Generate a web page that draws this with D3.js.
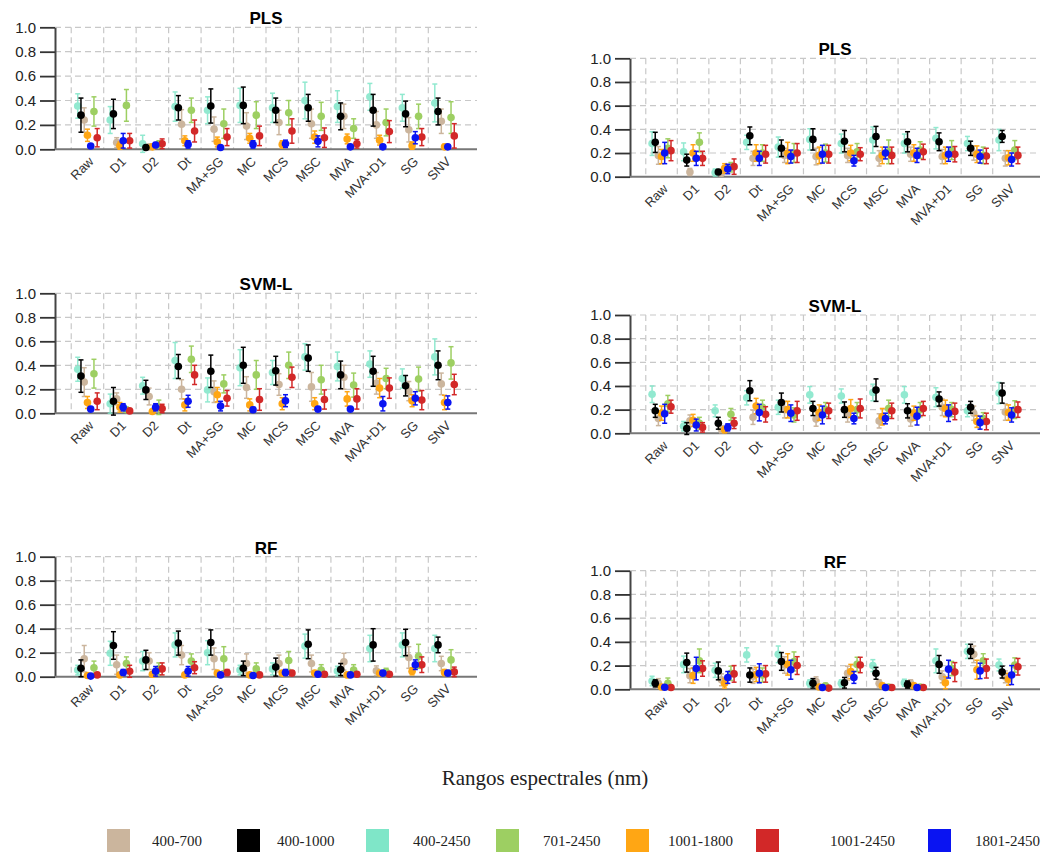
<!DOCTYPE html>
<html>
<head>
<meta charset="utf-8">
<script src="https://cdn.jsdelivr.net/npm/d3@7"></script>
<style>
body { margin: 0; background: #fff; }
</style>
</head>
<body>
<svg id="chart" width="1056" height="854"></svg>
<script>
const categories = ["Raw", "D1", "D2", "Dt", "MA+SG", "MC", "MCS", "MSC", "MVA", "MVA+D1", "SG", "SNV"];
const seriesNames = ["400-700", "400-1000", "400-2450", "701-2450", "1001-1800", "1001-2450", "1801-2450"];
const seriesColors = ["#cbb59d", "#000000", "#7fe6c8", "#9dcf62", "#ffa614", "#d22828", "#0a14f2"];
// left-to-right order inside each group
const dodgeOrder = ["400-2450", "400-1000", "400-700", "1001-1800", "1801-2450", "701-2450", "1001-2450"];
// which series sits on top
const drawOrder = ["400-2450", "400-700", "701-2450", "1001-1800", "1001-2450", "1801-2450", "400-1000"];
const yTicks = [0, 0.2, 0.4, 0.6, 0.8, 1.0];

// rows follow seriesNames, columns follow categories
const leftPlsMean = [
    [0.24, 0.055, 0.02, 0.205, 0.165, 0.19, 0.22, 0.21, 0.27, 0.2, 0.16, 0.23],
    [0.28, 0.29, 0.015, 0.34, 0.355, 0.36, 0.32, 0.34, 0.27, 0.32, 0.29, 0.31],
    [0.355, 0.24, 0.045, 0.35, 0.32, 0.36, 0.34, 0.40, 0.35, 0.43, 0.34, 0.38],
    [0.31, 0.36, 0.04, 0.32, 0.21, 0.28, 0.30, 0.27, 0.17, 0.22, 0.27, 0.26],
    [0.115, 0.03, 0.02, 0.07, 0.06, 0.09, 0.04, 0.1, 0.085, 0.075, 0.03, 0.02],
    [0.095, 0.07, 0.045, 0.15, 0.1, 0.11, 0.15, 0.095, 0.045, 0.145, 0.1, 0.11],
    [0.027, 0.07, 0.035, 0.04, 0.015, 0.04, 0.045, 0.065, 0.02, 0.02, 0.095, 0.02]
];
const leftPlsErr = [
    [0.1, 0.04, 0.02, 0.12, 0.1, 0.11, 0.1, 0.12, 0.1, 0.11, 0.1, 0.1],
    [0.14, 0.12, 0.01, 0.1, 0.14, 0.15, 0.1, 0.11, 0.11, 0.13, 0.105, 0.11],
    [0.1, 0.11, 0.07, 0.12, 0.11, 0.14, 0.12, 0.15, 0.13, 0.11, 0.11, 0.155],
    [0.12, 0.13, 0.03, 0.1, 0.12, 0.11, 0.1, 0.115, 0.08, 0.11, 0.1, 0.13],
    [0.05, 0.03, 0.02, 0.04, 0.04, 0.04, 0.03, 0.05, 0.04, 0.04, 0.03, 0.02],
    [0.075, 0.06, 0.04, 0.09, 0.07, 0.08, 0.1, 0.08, 0.035, 0.09, 0.07, 0.1],
    [0.015, 0.06, 0.02, 0.03, 0.01, 0.03, 0.03, 0.045, 0.015, 0.015, 0.05, 0.015]
];
const leftSvmMean = [
    [0.26, 0.12, 0.14, 0.2, 0.18, 0.215, 0.24, 0.22, 0.30, 0.25, 0.185, 0.245],
    [0.31, 0.1, 0.195, 0.39, 0.35, 0.40, 0.355, 0.46, 0.32, 0.35, 0.23, 0.40],
    [0.367, 0.08, 0.23, 0.44, 0.195, 0.38, 0.34, 0.47, 0.39, 0.41, 0.29, 0.47],
    [0.33, 0.03, 0.05, 0.45, 0.245, 0.32, 0.40, 0.28, 0.235, 0.29, 0.285, 0.42],
    [0.09, 0.05, 0.015, 0.07, 0.155, 0.07, 0.08, 0.08, 0.12, 0.21, 0.105, 0.09],
    [0.1, 0.02, 0.04, 0.32, 0.125, 0.115, 0.30, 0.115, 0.12, 0.21, 0.11, 0.24],
    [0.035, 0.05, 0.05, 0.1, 0.06, 0.03, 0.105, 0.035, 0.035, 0.08, 0.125, 0.09]
];
const leftSvmErr = [
    [0.12, 0.05, 0.07, 0.08, 0.09, 0.09, 0.09, 0.12, 0.1, 0.09, 0.08, 0.09],
    [0.135, 0.115, 0.08, 0.1, 0.135, 0.15, 0.12, 0.11, 0.115, 0.125, 0.085, 0.12],
    [0.1, 0.08, 0.07, 0.15, 0.1, 0.15, 0.1, 0.11, 0.12, 0.11, 0.08, 0.15],
    [0.12, 0.02, 0.06, 0.11, 0.075, 0.12, 0.11, 0.12, 0.1, 0.085, 0.1, 0.135],
    [0.05, 0.04, 0.015, 0.05, 0.06, 0.05, 0.05, 0.05, 0.06, 0.08, 0.05, 0.06],
    [0.07, 0.015, 0.035, 0.08, 0.065, 0.09, 0.085, 0.08, 0.085, 0.085, 0.08, 0.085],
    [0.02, 0.03, 0.03, 0.05, 0.04, 0.02, 0.05, 0.02, 0.02, 0.06, 0.055, 0.055]
];
const leftRfMean = [
    [0.15, 0.10, 0.13, 0.18, 0.15, 0.11, 0.11, 0.11, 0.125, 0.05, 0.16, 0.11],
    [0.07, 0.26, 0.14, 0.28, 0.285, 0.07, 0.08, 0.27, 0.06, 0.265, 0.285, 0.265],
    [0.055, 0.195, 0.13, 0.265, 0.2, 0.055, 0.065, 0.255, 0.047, 0.235, 0.265, 0.235],
    [0.075, 0.11, 0.065, 0.13, 0.15, 0.065, 0.135, 0.055, 0.055, 0.04, 0.17, 0.14],
    [0.01, 0.015, 0.02, 0.015, 0.03, 0.015, 0.03, 0.03, 0.015, 0.03, 0.045, 0.035],
    [0.015, 0.045, 0.065, 0.075, 0.035, 0.015, 0.03, 0.02, 0.02, 0.02, 0.1, 0.04],
    [0.005, 0.035, 0.045, 0.045, 0.015, 0.01, 0.035, 0.02, 0.015, 0.03, 0.1, 0.03]
];
const leftRfErr = [
    [0.11, 0.08, 0.07, 0.08, 0.09, 0.08, 0.07, 0.07, 0.07, 0.04, 0.09, 0.06],
    [0.07, 0.115, 0.08, 0.1, 0.105, 0.06, 0.075, 0.12, 0.05, 0.135, 0.11, 0.065],
    [0.04, 0.1, 0.08, 0.1, 0.1, 0.04, 0.05, 0.1, 0.04, 0.11, 0.1, 0.11],
    [0.055, 0.055, 0.05, 0.06, 0.1, 0.05, 0.075, 0.045, 0.045, 0.03, 0.1, 0.085],
    [0.01, 0.015, 0.015, 0.015, 0.02, 0.01, 0.02, 0.02, 0.01, 0.02, 0.03, 0.025],
    [0.01, 0.05, 0.05, 0.05, 0.025, 0.01, 0.02, 0.015, 0.015, 0.015, 0.065, 0.04],
    [0.005, 0.025, 0.04, 0.04, 0.01, 0.01, 0.025, 0.015, 0.01, 0.02, 0.04, 0.02]
];
const rightPlsMean = [
    [0.18, 0.04, 0.03, 0.155, 0.18, 0.17, 0.18, 0.155, 0.19, 0.17, 0.2, 0.155],
    [0.29, 0.14, 0.04, 0.345, 0.24, 0.315, 0.30, 0.34, 0.295, 0.295, 0.24, 0.34],
    [0.28, 0.21, 0.035, 0.29, 0.25, 0.315, 0.28, 0.31, 0.28, 0.325, 0.28, 0.31],
    [0.24, 0.29, 0.08, 0.2, 0.2, 0.2, 0.21, 0.21, 0.225, 0.225, 0.18, 0.225],
    [0.17, 0.2, 0.07, 0.2, 0.2, 0.18, 0.2, 0.18, 0.2, 0.18, 0.19, 0.16],
    [0.22, 0.155, 0.085, 0.19, 0.2, 0.19, 0.19, 0.18, 0.21, 0.19, 0.175, 0.18],
    [0.2, 0.155, 0.065, 0.155, 0.17, 0.19, 0.135, 0.2, 0.18, 0.19, 0.17, 0.145]
];
const rightPlsErr = [
    [0.075, 0.03, 0.02, 0.06, 0.06, 0.07, 0.06, 0.065, 0.06, 0.06, 0.06, 0.065],
    [0.085, 0.05, 0.02, 0.075, 0.07, 0.09, 0.09, 0.085, 0.085, 0.075, 0.06, 0.05],
    [0.1, 0.075, 0.03, 0.06, 0.085, 0.09, 0.08, 0.11, 0.08, 0.09, 0.06, 0.09],
    [0.08, 0.08, 0.04, 0.07, 0.08, 0.075, 0.07, 0.1, 0.07, 0.08, 0.07, 0.08],
    [0.06, 0.07, 0.04, 0.07, 0.09, 0.07, 0.065, 0.07, 0.07, 0.07, 0.07, 0.06],
    [0.085, 0.06, 0.065, 0.075, 0.08, 0.075, 0.055, 0.07, 0.065, 0.065, 0.065, 0.07],
    [0.09, 0.06, 0.04, 0.06, 0.055, 0.075, 0.045, 0.05, 0.06, 0.06, 0.055, 0.055]
];
const rightSvmMean = [
    [0.125, 0.105, 0.035, 0.135, 0.2, 0.12, 0.155, 0.105, 0.12, 0.22, 0.17, 0.18],
    [0.19, 0.04, 0.085, 0.36, 0.26, 0.21, 0.2, 0.365, 0.19, 0.29, 0.22, 0.34],
    [0.33, 0.06, 0.19, 0.3, 0.22, 0.325, 0.315, 0.345, 0.325, 0.305, 0.19, 0.34],
    [0.25, 0.085, 0.16, 0.22, 0.155, 0.2, 0.2, 0.21, 0.2, 0.2, 0.125, 0.2],
    [0.17, 0.11, 0.03, 0.23, 0.2, 0.175, 0.21, 0.14, 0.17, 0.21, 0.1, 0.175],
    [0.225, 0.05, 0.085, 0.16, 0.19, 0.19, 0.21, 0.19, 0.21, 0.185, 0.1, 0.2],
    [0.165, 0.07, 0.05, 0.175, 0.17, 0.155, 0.125, 0.125, 0.145, 0.17, 0.09, 0.155]
];
const rightSvmErr = [
    [0.06, 0.05, 0.03, 0.06, 0.07, 0.06, 0.06, 0.06, 0.06, 0.07, 0.06, 0.07],
    [0.055, 0.05, 0.05, 0.085, 0.08, 0.06, 0.065, 0.095, 0.06, 0.06, 0.05, 0.085],
    [0.07, 0.04, 0.05, 0.06, 0.06, 0.07, 0.06, 0.07, 0.07, 0.08, 0.05, 0.09],
    [0.07, 0.05, 0.05, 0.06, 0.06, 0.06, 0.06, 0.07, 0.06, 0.06, 0.05, 0.075],
    [0.06, 0.05, 0.025, 0.065, 0.07, 0.065, 0.075, 0.07, 0.06, 0.07, 0.05, 0.065],
    [0.055, 0.04, 0.045, 0.065, 0.08, 0.065, 0.08, 0.065, 0.06, 0.07, 0.07, 0.065],
    [0.08, 0.05, 0.03, 0.07, 0.07, 0.075, 0.045, 0.045, 0.075, 0.07, 0.055, 0.06]
];
const rightRfMean = [
    [0.05, 0.115, 0.08, 0.11, 0.205, 0.065, 0.135, 0.05, 0.05, 0.105, 0.295, 0.105],
    [0.05, 0.225, 0.155, 0.12, 0.235, 0.05, 0.055, 0.135, 0.04, 0.21, 0.32, 0.145],
    [0.07, 0.21, 0.16, 0.29, 0.295, 0.05, 0.05, 0.2, 0.055, 0.24, 0.32, 0.205],
    [0.05, 0.24, 0.135, 0.12, 0.235, 0.03, 0.21, 0.02, 0.02, 0.175, 0.24, 0.205],
    [0.02, 0.115, 0.05, 0.125, 0.21, 0.02, 0.15, 0.03, 0.03, 0.055, 0.165, 0.085],
    [0.015, 0.175, 0.13, 0.13, 0.2, 0.01, 0.205, 0.015, 0.015, 0.145, 0.175, 0.19],
    [0.017, 0.175, 0.1, 0.135, 0.165, 0.015, 0.1, 0.015, 0.015, 0.17, 0.155, 0.12]
];
const rightRfErr = [
    [0.04, 0.06, 0.05, 0.06, 0.07, 0.04, 0.06, 0.03, 0.03, 0.05, 0.07, 0.05],
    [0.03, 0.08, 0.075, 0.06, 0.075, 0.04, 0.045, 0.05, 0.03, 0.075, 0.06, 0.05],
    [0.04, 0.07, 0.06, 0.06, 0.07, 0.03, 0.03, 0.05, 0.03, 0.1, 0.06, 0.05],
    [0.045, 0.1, 0.06, 0.06, 0.08, 0.02, 0.06, 0.015, 0.015, 0.06, 0.06, 0.06],
    [0.015, 0.065, 0.04, 0.06, 0.09, 0.015, 0.06, 0.02, 0.02, 0.05, 0.08, 0.05],
    [0.01, 0.065, 0.07, 0.07, 0.075, 0.01, 0.065, 0.01, 0.01, 0.08, 0.08, 0.07],
    [0.015, 0.095, 0.05, 0.08, 0.08, 0.01, 0.05, 0.01, 0.01, 0.075, 0.065, 0.08]
];

const panels = [
    {title: "PLS",   mean: leftPlsMean,  err: leftPlsErr,  x0: 55,  x1: 477,  top: 27.3,  bottom: 149.3},
    {title: "SVM-L", mean: leftSvmMean,  err: leftSvmErr,  x0: 55,  x1: 477,  top: 293.3, bottom: 413.3},
    {title: "RF",    mean: leftRfMean,   err: leftRfErr,   x0: 55,  x1: 477,  top: 556.7, bottom: 676.7},
    {title: "PLS",   mean: rightPlsMean, err: rightPlsErr, x0: 630, x1: 1040, top: 58.3,  bottom: 176.7},
    {title: "SVM-L", mean: rightSvmMean, err: rightSvmErr, x0: 630, x1: 1040, top: 315,   bottom: 433.3},
    {title: "RF",    mean: rightRfMean,  err: rightRfErr,  x0: 630, x1: 1040, top: 570.7, bottom: 689.3}
];

const svg = d3.select('#chart');
const sans = "'Liberation Sans', Arial, sans-serif";
const serif = "'Liberation Serif', 'Times New Roman', serif";
const colorOf = d3.scaleOrdinal().domain(seriesNames).range(seriesColors);

const renderPanel = function(p) {
    const g = svg.append("g");
    const x = d3.scaleBand().domain(categories).range([p.x0, p.x1]).paddingInner(0).paddingOuter(0.5);
    const y = d3.scaleLinear().domain([0, 1]).range([p.bottom, p.top]);
    const dodge = d3.scalePoint().domain(dodgeOrder).range([-x.step() * 0.3, x.step() * 0.3]);

    // dashed grid
    g.selectAll(".hgrid").data(yTicks.filter(d => d > 0)).enter()
        .append("line")
        .attr("x1", p.x0).attr("x2", p.x1)
        .attr("y1", d => y(d)).attr("y2", d => y(d))
        .attr("stroke", "#c8c8c8").attr("stroke-width", 1.2)
        .attr("stroke-dasharray", "6,4");
    g.selectAll(".vgrid").data(categories).enter()
        .append("line")
        .attr("x1", d => x(d)).attr("x2", d => x(d))
        .attr("y1", y(1)).attr("y2", y(0))
        .attr("stroke", "#c8c8c8").attr("stroke-width", 1.2)
        .attr("stroke-dasharray", "6,4");

    // y axis
    const yAxis = g.append("g")
        .attr("transform", "translate(" + p.x0 + ",0)")
        .call(d3.axisLeft(y).tickValues(yTicks).tickFormat(d3.format(".1f")).tickSize(15).tickPadding(4).tickSizeOuter(0));
    yAxis.select(".domain").attr("stroke", "#444").attr("stroke-width", 2);
    yAxis.selectAll(".tick line").attr("stroke", "#333").attr("stroke-width", 1.8);
    yAxis.selectAll(".tick text").attr("font-family", sans).attr("font-size", 15).attr("fill", "#222");

    // x baseline
    g.append("line")
        .attr("x1", p.x0).attr("x2", p.x1)
        .attr("y1", y(0)).attr("y2", y(0))
        .attr("stroke", "#777").attr("stroke-width", 2);

    // category labels
    g.selectAll(".xlab").data(categories).enter()
        .append("text")
        .attr("transform", d => "translate(" + (x(d) + x.bandwidth() / 2 + 7) + "," + (y(0) + 13) + ") rotate(-45)")
        .attr("text-anchor", "end")
        .attr("font-family", sans).attr("font-size", 13).attr("fill", "#333")
        .text(d => d);

    // title
    g.append("text")
        .attr("x", (p.x0 + p.x1) / 2).attr("y", p.top - 3)
        .attr("text-anchor", "middle")
        .attr("font-family", sans).attr("font-weight", "bold").attr("font-size", 17)
        .text(p.title);

    drawOrder.forEach(function(name) {
        const si = seriesNames.indexOf(name);
        const color = colorOf(name);
        const rows = categories.map((c, i) => ({
            cx: x(c) + x.bandwidth() / 2 + dodge(name),
            m: p.mean[si][i],
            e: p.err[si][i]
        }));
        const s = g.append("g").attr("opacity", name === "400-2450" ? 0.85 : 1);
        s.selectAll(".bar").data(rows).enter().append("line")
            .attr("x1", d => d.cx).attr("x2", d => d.cx)
            .attr("y1", d => y(d.m - d.e)).attr("y2", d => y(d.m + d.e))
            .attr("stroke", color).attr("stroke-width", 1.5);
        s.selectAll(".capTop").data(rows).enter().append("line")
            .attr("x1", d => d.cx - 2.5).attr("x2", d => d.cx + 2.5)
            .attr("y1", d => y(d.m + d.e)).attr("y2", d => y(d.m + d.e))
            .attr("stroke", color).attr("stroke-width", 1.5);
        s.selectAll(".capBot").data(rows).enter().append("line")
            .attr("x1", d => d.cx - 2.5).attr("x2", d => d.cx + 2.5)
            .attr("y1", d => y(d.m - d.e)).attr("y2", d => y(d.m - d.e))
            .attr("stroke", color).attr("stroke-width", 1.5);
        s.selectAll(".dot").data(rows).enter().append("circle")
            .attr("cx", d => d.cx).attr("cy", d => y(d.m))
            .attr("r", 3.8)
            .attr("fill", color);
    });
}

panels.forEach(renderPanel);

// shared axis title
svg.append("text")
    .attr("x", 545).attr("y", 785)
    .attr("text-anchor", "middle")
    .attr("font-family", serif).attr("font-size", 21).attr("fill", "#222")
    .text("Rangos espectrales (nm)");

// legend
const legendBoxX = [107, 237, 366, 496, 626, 756, 928];
const legendTextX = [152, 277, 413, 543, 668, 830, 975];
const legend = svg.append("g");
seriesNames.forEach(function(name, i) {
    legend.append("rect")
        .attr("x", legendBoxX[i]).attr("y", 829)
        .attr("width", 23).attr("height", 23)
        .attr("fill", colorOf(name));
    legend.append("text")
        .attr("x", legendTextX[i]).attr("y", 846)
        .attr("font-family", serif).attr("font-size", 15).attr("fill", "#222")
        .text(name);
});
</script>
</body>
</html>
